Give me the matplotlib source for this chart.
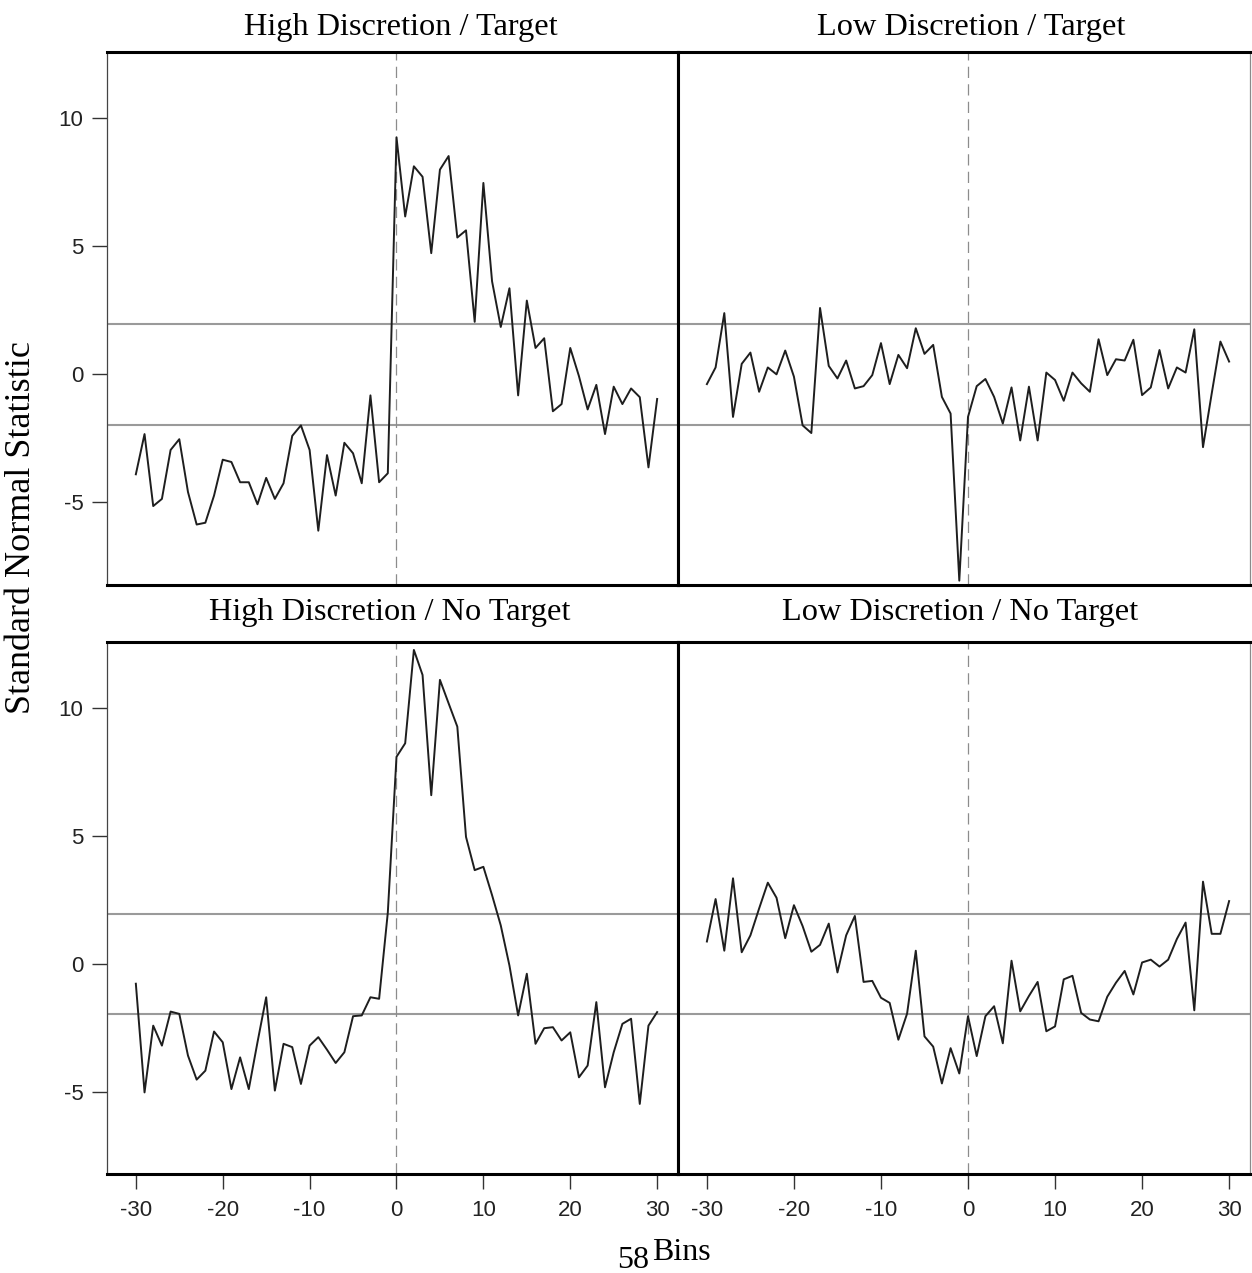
"""Four-panel plot of standard normal statistics around bin 0."""

import numpy as np
from matplotlib import pyplot as plt

W, H = 1252, 1273

bins = list(range(-30, 31))

high_target = [
    -3.90, -2.33, -5.14, -4.86, -2.95, -2.53, -4.59, -5.86, -5.79, -4.73,
    -3.33, -3.42, -4.21, -4.21, -5.07, -4.04, -4.86, -4.25, -2.40, -1.99,
    -2.95, -6.10, -3.15, -4.73, -2.67, -3.08, -4.25, -0.82, -4.21, -3.86,
    9.25, 6.16, 8.12, 7.71, 4.73, 7.99, 8.52, 5.34, 5.62, 2.05,
    7.47, 3.63, 1.85, 3.36, -0.82, 2.88, 1.03, 1.41, -1.44, -1.16,
    1.03, -0.07, -1.37, -0.41, -2.33, -0.48, -1.16, -0.55, -0.89, -3.63,
    -0.96,
]

low_target = [
    -0.38, 0.27, 2.39, -1.66, 0.41, 0.85, -0.68, 0.27, 0.00, 0.93,
    -0.09, -1.99, -2.29, 2.59, 0.33, -0.16, 0.54, -0.55, -0.46, -0.03,
    1.22, -0.38, 0.76, 0.24, 1.80, 0.80, 1.15, -0.88, -1.53, -8.05,
    -1.66, -0.46, -0.18, -0.88, -1.92, -0.51, -2.58, -0.48, -2.58, 0.07,
    -0.22, -1.03, 0.07, -0.35, -0.68, 1.37, -0.03, 0.59, 0.54, 1.35,
    -0.81, -0.51, 0.95, -0.55, 0.27, 0.07, 1.76, -2.84, -0.75, 1.28,
    0.50,
]

high_no_target = [
    -0.78, -5.03, -2.42, -3.20, -1.87, -1.96, -3.59, -4.53, -4.18, -2.65,
    -3.07, -4.90, -3.66, -4.90, -3.07, -1.31, -4.96, -3.13, -3.26, -4.70,
    -3.20, -2.87, -3.36, -3.88, -3.46, -2.05, -2.02, -1.31, -1.37, 2.00,
    8.09, 8.62, 12.27, 11.29, 6.59, 11.10, 10.18, 9.27, 4.96, 3.66,
    3.79, 2.68, 1.50, -0.07, -2.02, -0.39, -3.13, -2.52, -2.48, -3.00,
    -2.68, -4.44, -3.98, -1.50, -4.83, -3.46, -2.35, -2.15, -5.48, -2.42,
    -1.89,
]

low_no_target = [
    0.87, 2.53, 0.51, 3.34, 0.45, 1.11, 2.16, 3.17, 2.58, 1.00,
    2.29, 1.47, 0.47, 0.74, 1.57, -0.34, 1.11, 1.87, -0.71, -0.67,
    -1.33, -1.53, -2.97, -1.95, 0.51, -2.84, -3.24, -4.68, -3.30, -4.29,
    -2.05, -3.61, -2.05, -1.66, -3.11, 0.12, -1.86, -1.26, -0.71, -2.64,
    -2.45, -0.61, -0.47, -1.92, -2.18, -2.25, -1.29, -0.74, -0.28, -1.20,
    0.05, 0.16, -0.11, 0.16, 0.97, 1.61, -1.82, 3.21, 1.17, 1.17,
    2.45,
]

titles = ["High Discretion / Target", "Low Discretion / Target",
          "High Discretion / No Target", "Low Discretion / No Target"]
series = [high_target, low_target, high_no_target, low_no_target]

x_ticks = [-30, -20, -10, 0, 10, 20, 30]
y_ticks = [-5, 0, 5, 10]
CRIT = 1.96

SERIF = "Liberation Serif"
SANS = "Liberation Sans"

plt.rcParams["axes.unicode_minus"] = False


def px_box(x0, y0, x1, y1):
    """Axes rectangle from pixel corners (top-left origin)."""
    return [x0 / W, 1 - y1 / H, (x1 - x0) / W, (y1 - y0) / H]


fig = plt.figure(figsize=(W / 100, H / 100), dpi=100)
corners = [(107, 52, 678, 585), (678, 52, 1250, 585),
           (107, 642, 678, 1174), (678, 642, 1250, 1174)]
# titles in the original sit a little off the panel centres
title_centres = [401, 971, 390, 960]

for i, (corner, title, ys) in enumerate(zip(corners, titles, series)):
    ax = fig.add_axes(px_box(*corner))
    left_col = i % 2 == 0
    bottom_row = i >= 2

    ax.axhline(CRIT, color="#9a9a9a", lw=1.5, zorder=1)
    ax.axhline(-CRIT, color="#9a9a9a", lw=1.5, zorder=1)
    ax.axvline(0, color="#8c8c8c", lw=0.9, ls=(0, (9, 5)), zorder=1)
    ax.plot(bins, ys, color="#1e1e1e", lw=1.4, zorder=3)

    ax.set_xlim(-33.32, 32.40)
    ax.set_ylim(-8.22, 12.58)

    for side in ("top", "bottom"):
        ax.spines[side].set_linewidth(2.2)
        ax.spines[side].set_color("black")
    if left_col:
        ax.spines["left"].set_linewidth(0.9)
        ax.spines["left"].set_color("#444444")
        ax.spines["right"].set_linewidth(2.2)
        ax.spines["right"].set_color("black")
    else:
        ax.spines["left"].set_linewidth(2.2)
        ax.spines["left"].set_color("black")
        ax.spines["right"].set_linewidth(0.9)
        ax.spines["right"].set_color("#8a8a8a")

    if left_col:
        ax.set_yticks(y_ticks)
        ax.tick_params(axis="y", direction="out", length=11, width=1.0,
                       pad=6, labelsize=16, color="#333333")
    else:
        ax.set_yticks([])
    if bottom_row:
        ax.set_xticks(x_ticks)
        ax.tick_params(axis="x", direction="out", length=11, width=1.0,
                       pad=8, labelsize=16, color="#333333")
    else:
        ax.set_xticks([])
    for lab in ax.get_xticklabels() + ax.get_yticklabels():
        lab.set_family(SANS)
        lab.set_color("#222222")

    x0, _, x1, _ = corner
    ax.set_title(title, family=SERIF, fontsize=23.3,
                 x=(title_centres[i] - x0) / (x1 - x0),
                 pad=16 if bottom_row else 12)

fig.text(22 / W, 1 - 528 / H, "Standard Normal Statistic", family=SERIF,
         fontsize=26, rotation=90, ha="center", va="center")
fig.text(649 / W, 1 - 1268 / H, "58", family=SERIF, fontsize=23,
         ha="right", va="baseline")
fig.text(652 / W, 1 - 1260 / H, "Bins", family=SERIF, fontsize=23,
         ha="left", va="baseline")

fig.savefig("out.png", dpi=100, facecolor="white")
